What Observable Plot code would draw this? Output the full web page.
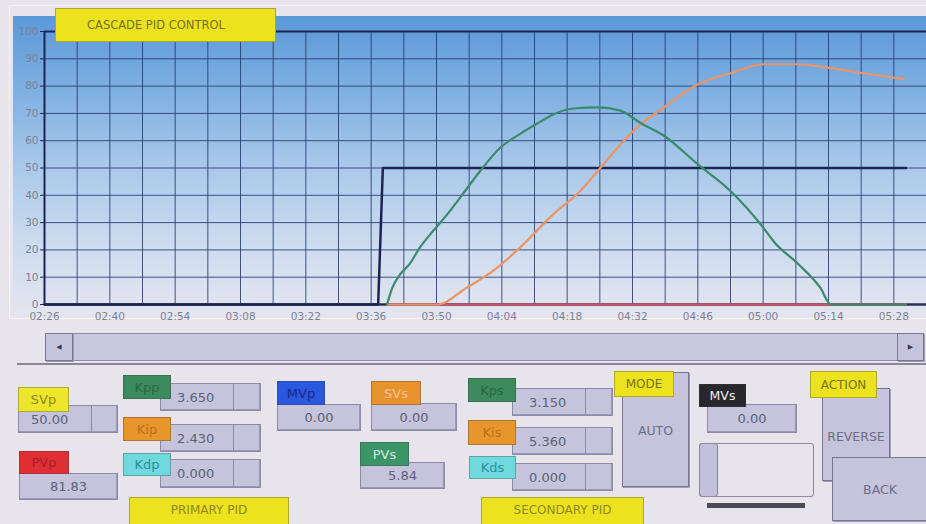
<!DOCTYPE html>
<html>
<head>
<meta charset="utf-8">
<script src="https://cdn.jsdelivr.net/npm/d3@7"></script>
<script src="https://cdn.jsdelivr.net/npm/@observablehq/plot@0.6"></script>
<style>
  html, body { margin: 0; padding: 0; background: #e7e4eb; }
  #screen { position: relative; width: 926px; height: 524px; overflow: hidden; background: #e7e4eb; font-family: "DejaVu Sans", sans-serif; }
  #frame { position: absolute; left: 9px; top: 5px; width: 930px; height: 314px; border: 1px solid #f4f2f6; box-sizing: border-box; }
  #panel { position: absolute; left: 13px; top: 16px; width: 913px; height: 300px;
           background: linear-gradient(to bottom, #5a98d8 0%, #7fb0e2 25%, #a9c8ea 50%, #cbdbef 75%, #e4e5ef 100%); }
  #chart { position: absolute; left: 0; top: 0; }
  .box { position: absolute; box-sizing: border-box; display: flex; align-items: center; justify-content: center; font-size: 12px; white-space: nowrap; }
  .lab { border: 1px solid rgba(60,60,60,0.35); }
  .val { background: #c6c4dc; border: 1px solid #8c8aa6; box-shadow: inset -1px -1px 0 #9a98b4; color: #5c6078; font-size: 13px; }
  .div { position: absolute; top: 0; bottom: 0; width: 1px; background: #8c8aa6; }
  .btn { background: #c6c4dc; border: 1px solid #77758f; box-shadow: 1px 1px 0 #9f9db5; color: #6c6e84; font-size: 12.5px; }
  .yel { background: #ece21e; color: #77721c; }
</style>
</head>
<body>
<div id="screen">
  <div id="frame"></div>
  <div id="panel"></div>
  <div id="chart"></div>
</div>
<script>
// ---- data (times mm:ss, decimals allowed) ----
const xTicks = ["02:26","02:40","02:54","03:08","03:22","03:36","03:50","04:04","04:18","04:32","04:46","05:00","05:14","05:28"];
const yTicks = [0,10,20,30,40,50,60,70,80,90,100];

const svTimes  = ["02:26","03:37.5","03:38.5","05:30.6"];
const svValues = [0, 0, 50, 50];

const redTimes  = ["03:39.4","05:30.6"];
const redValues = [0, 0];

const greenTimes  = ["03:39.4","03:40.5","03:42.2","03:44.3","03:46.5","03:49.3","03:52.3","03:55.7","03:59.4","04:03.7","04:08.0","04:11.6","04:15.0","04:19.3","04:24.5","04:29.4","04:33.7","04:38.6","04:45.9","04:53.0","05:00.1","05:02.3","05:07.4","05:12.3","05:14.5","05:30.6"];
const greenValues = [0, 6, 11, 15, 21, 27, 33, 40.6, 49, 57.5, 62.6, 66.3, 69.6, 71.8, 72.2, 71, 66.5, 62, 51.5, 41.6, 28, 23, 15, 6, 0, 0];

const orangeTimes  = ["03:39.4","03:50.1","03:56.6","04:02.2","04:08.0","04:15.0","04:20.8","04:25.1","04:29.4","04:33.7","04:38.6","04:45.9","04:53.0","05:00.1","05:07.4","05:14.5","05:21.6","05:30.2"];
const orangeValues = [0, 0, 6.3, 12.4, 21, 33, 41.6, 50, 58.6, 66, 72, 80.6, 84.7, 88, 88, 86.6, 84.7, 82.5];

const xStart = "02:26", xEnd = "05:35";

// ---- build ----
const parse = s => { const [m, sec] = s.split(":"); return new Date(2000, 0, 1, 0, +m, 0, Math.round(+sec * 1000)); };
const rows = (ts, vs) => ts.map((t, i) => ({t: parse(t), v: vs[i]}));
const t0 = parse(xStart), t1 = parse(xEnd);
const gridX = d3.range(0, (t1 - t0) / 1000, 7).map(s => new Date(+t0 + s * 1000));
const fmt = d3.timeFormat("%M:%S");

const navy = "#1d2453";
const chart = Plot.plot({
  width: 926,
  height: 330,
  marginLeft: 44,
  marginRight: 0,
  marginTop: 31,
  marginBottom: 26,
  style: {background: "transparent", fontFamily: "DejaVu Sans, sans-serif", fontSize: "10.5px", color: "#7b8194"},
  x: {type: "time", domain: [t0, t1], label: null},
  y: {domain: [0, 100], label: null},
  marks: [
    Plot.ruleX(gridX, {stroke: "#24386e", strokeWidth: 1, strokeOpacity: 0.85}),
    Plot.ruleY(yTicks, {stroke: "#24386e", strokeWidth: 1, strokeOpacity: 0.85}),
    Plot.ruleY([100], {stroke: navy, strokeWidth: 2}),
    Plot.ruleX([t0], {stroke: navy, strokeWidth: 2}),
    Plot.ruleY([0], {stroke: "#2a2f55", strokeWidth: 2.5}),
    Plot.line(rows(redTimes, redValues), {x: "t", y: "v", stroke: "#d8506a", strokeWidth: 2}),
    Plot.line(rows(svTimes, svValues), {x: "t", y: "v", stroke: navy, strokeWidth: 2.5}),
    Plot.line(rows(orangeTimes, orangeValues), {x: "t", y: "v", stroke: "#ec9463", strokeWidth: 2.2, curve: "monotone-x"}),
    Plot.line(rows(greenTimes, greenValues), {x: "t", y: "v", stroke: "#3a8a6c", strokeWidth: 2.2, curve: "monotone-x"}),
    Plot.axisX({ticks: xTicks.map(parse), tickFormat: fmt, tickSize: 0, tickPadding: 8, fill: "#7b8194"}),
    Plot.axisY({ticks: yTicks, tickSize: 4, tickPadding: 2, fill: "#7b8194", stroke: navy})
  ]
});
document.getElementById("chart").appendChild(chart);

// ---- HMI widgets ----
const screen = document.getElementById("screen");
function box(cls, x, y, w, h, text, extra) {
  const d = document.createElement("div");
  d.className = "box " + cls;
  Object.assign(d.style, {left: x + "px", top: y + "px", width: w + "px", height: h + "px"}, extra || {});
  if (text) { const s = document.createElement("span"); s.textContent = text; d.appendChild(s); }
  screen.appendChild(d);
  return d;
}
function valBox(x, y, w, h, text, divX, extra) {
  const d = box("val", x, y, w, h, text, extra);
  if (divX != null) {
    const dv = document.createElement("div"); dv.className = "div"; dv.style.left = divX + "px"; d.appendChild(dv);
    d.style.justifyContent = "flex-start";
    d.firstChild.style.marginLeft = extra && extra.pad ? extra.pad : "14px";
  }
  return d;
}

// title
box("lab yel", 55, 8, 221, 34, "CASCADE PID CONTROL", {fontSize: "11.5px", justifyContent: "flex-start", paddingLeft: "31px"});

// scrollbar
box("", 45, 333, 878, 28, "", {background: "#cac8de", border: "1px solid #8e8ca6"});
box("btn", 45, 333, 28, 28, "◀", {fontSize: "7px", color: "#3a3a50"});
box("btn", 897, 333, 27, 28, "▶", {fontSize: "7px", color: "#3a3a50"});
box("", 17, 363, 909, 2, "", {background: "#8a8898"});

// primary
valBox(18, 405, 100, 28, "50.00", 72, {justifyContent: "flex-start", pad: "12px"});
box("lab", 18, 387, 51, 25, "SVp", {background: "#ede62a", color: "#8c8a1c", fontSize: "13px"});
valBox(19, 473, 99, 27, "81.83", null);
box("lab", 19, 451, 50, 23, "PVp", {background: "#df2f34", color: "#a92026", fontSize: "13px"});

valBox(160, 383, 101, 28, "3.650", 72, {justifyContent: "flex-start", pad: "16px"});
box("lab", 123, 375, 48, 24, "Kpp", {background: "#3c8a5e", color: "#2a6645", fontSize: "13px"});
valBox(160, 424, 101, 28, "2.430", 72, {justifyContent: "flex-start", pad: "16px"});
box("lab", 123, 417, 48, 24, "Kip", {background: "#e8962c", color: "#b96f18", fontSize: "13px"});
valBox(160, 459, 101, 29, "0.000", 72, {justifyContent: "flex-start", pad: "16px"});
box("lab", 123, 453, 48, 23, "Kdp", {background: "#70d9de", color: "#2d8f9a", fontSize: "13px"});
box("lab yel", 129, 497, 160, 30, "PRIMARY PID", {fontSize: "12px", color: "#8e8824", alignItems: "flex-start", paddingTop: "5px"});

valBox(277, 404, 84, 27, "0.00", null);
box("lab", 277, 381, 48, 24, "MVp", {background: "#2957de", color: "#1a2c86", fontSize: "13px"});
valBox(371, 403, 86, 28, "0.00", null);
box("lab", 371, 381, 50, 24, "SVs", {background: "#e8922e", color: "#f6c28e", fontSize: "13px"});
valBox(360, 462, 85, 27, "5.84", null);
box("lab", 360, 442, 49, 24, "PVs", {background: "#3c9469", color: "#cfeede", fontSize: "13px"});

// secondary
valBox(512, 388, 101, 28, "3.150", 72, {justifyContent: "flex-start", pad: "16px"});
box("lab", 468, 378, 48, 24, "Kps", {background: "#3c8a5e", color: "#2a6645", fontSize: "13px"});
valBox(512, 427, 101, 28, "5.360", 72, {justifyContent: "flex-start", pad: "16px"});
box("lab", 468, 420, 48, 25, "Kis", {background: "#e8962c", color: "#b96f18", fontSize: "13px"});
valBox(512, 463, 101, 28, "0.000", 72, {justifyContent: "flex-start", pad: "16px"});
box("lab", 469, 456, 47, 23, "Kds", {background: "#70d9de", color: "#2d8f9a", fontSize: "13px"});
box("lab yel", 481, 497, 163, 30, "SECONDARY PID", {fontSize: "12px", color: "#8e8824", alignItems: "flex-start", paddingTop: "5px"});

// mode
box("btn", 622, 372, 67, 115, "AUTO", {alignItems: "flex-start", paddingTop: "50px"});
box("lab yel", 614, 371, 60, 26, "MODE", {fontSize: "12px"});

// MVs + slider
valBox(707, 404, 90, 29, "0.00", null);
box("lab", 699, 384, 47, 23, "MVs", {background: "#27272c", color: "#f0f0f0", fontSize: "12.5px"});
box("", 699, 443, 115, 54, "", {border: "1px solid #8a889c", borderRadius: "3px"});
box("", 699, 443, 19, 54, "", {background: "#c2c0da", border: "1px solid #8a889c", borderRadius: "3px"});
box("", 707, 503, 98, 5, "", {background: "#4a4a56"});

// action
box("btn", 822, 388, 68, 93, "REVERSE", {alignItems: "flex-start", paddingTop: "40px"});
box("lab yel", 810, 371, 67, 27, "ACTION", {fontSize: "12px"});
box("btn", 832, 457, 96, 64, "BACK", {alignItems: "flex-start", paddingTop: "24px"});
</script>
</body>
</html>
